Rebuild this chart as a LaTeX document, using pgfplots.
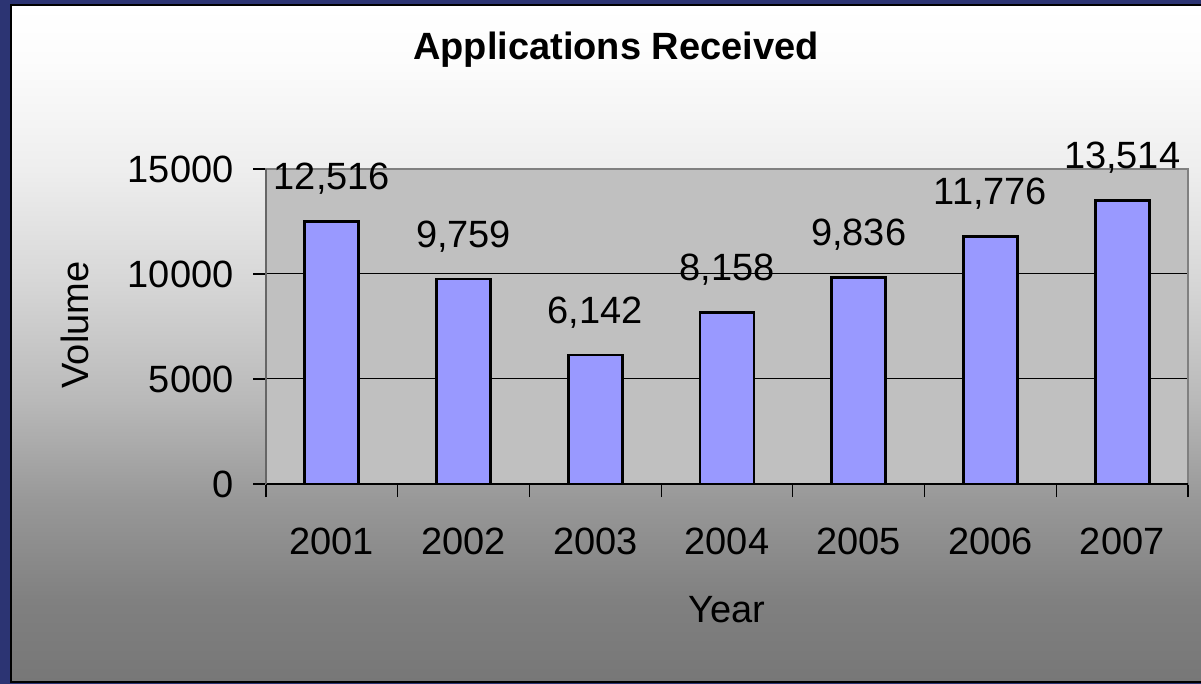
\documentclass[border=0pt]{standalone}
\usepackage{pgfplots}
\pgfplotsset{compat=1.18}
\usepackage{fontspec}
\setmainfont{Liberation Sans}
\definecolor{navy}{RGB}{44,52,115}
\definecolor{barblue}{RGB}{153,153,255}
\definecolor{plotgray}{RGB}{192,192,192}
\definecolor{bordergray}{RGB}{128,128,128}
\definecolor{ga}{RGB}{255,255,255}
\definecolor{gb}{RGB}{252,252,252}
\definecolor{gc}{RGB}{238,238,238}
\definecolor{gd}{RGB}{215,215,215}
\definecolor{ge}{RGB}{185,185,185}
\definecolor{gf}{RGB}{152,152,152}
\definecolor{gg}{RGB}{128,128,128}
\definecolor{gh}{RGB}{119,119,119}
\newcommand{\bigf}{\fontsize{38bp}{45bp}\selectfont}
\begin{document}
\begin{tikzpicture}
\begin{scope}[x=1bp,y=1bp]
\fill[navy] (0,0) rectangle (1201,684);
\shade[top color=ga, bottom color=gb] (11,623.5) rectangle (1201,679);
\shade[top color=gb, bottom color=gc] (11,513.5) rectangle (1201,624);
\shade[top color=gc, bottom color=gd] (11,403.5) rectangle (1201,514);
\shade[top color=gd, bottom color=ge] (11,283.5) rectangle (1201,404);
\shade[top color=ge, bottom color=gf] (11,183.5) rectangle (1201,284);
\shade[top color=gf, bottom color=gg] (11,83.5) rectangle (1201,184);
\shade[top color=gg, bottom color=gh] (11,2) rectangle (1201,84);
\draw[black, line width=1.5bp] (1201,2) -- (11,2) -- (11,679) -- (1201,679);
\node[font=\bigf\bfseries] at (616,634) {Applications Received};
\node[font=\bigf, rotate=90] at (75,359) {Volume};
\node[font=\bigf] at (727,74) {Year};
\end{scope}
\begin{axis}[
  at={(266bp,200bp)}, anchor=south west,
  scale only axis, width=922bp, height=315bp,
  xmin=-0.5, xmax=6.5, ymin=0, ymax=15000,
  ytick={0,5000,10000,15000},
  scaled y ticks=false,
  xtick={-0.5,0.5,1.5,2.5,3.5,4.5,5.5,6.5},
  xticklabels={{},{},{},{},{},{},{},{}},
  extra x ticks={0,1,2,3,4,5,6},
  extra x tick labels={2001,2002,2003,2004,2005,2006,2007},
  extra x tick style={major tick length=0pt, grid=none,
    xticklabel style={yshift=-40bp}},
  xtick pos=bottom, ytick pos=left,
  tick align=outside,
  major tick length=13bp,
  tick style={black, line width=1.2bp},
  ymajorgrids,
  grid style={black, line width=1bp},
  axis background/.style={fill=plotgray},
  axis line style={draw=bordergray, line width=2bp},
  tick label style={font=\bigf},
  /pgf/number format/assume math mode=true,
  yticklabel style={/pgf/number format/1000 sep={}, xshift=-16bp},
  clip=false,
]
\addplot[ybar, bar width=54bp, fill=barblue, draw=black, line width=2.8bp,
  nodes near coords,
  nodes near coords style={font=\bigf, anchor=base, yshift=32bp, inner sep=0pt, /pgf/number format/1000 sep={,}}]
  coordinates {(0,12516) (1,9759) (2,6142) (3,8158) (4,9836) (5,11776) (6,13514)};
\draw[black, line width=1.5bp] (rel axis cs:0,0) -- (rel axis cs:1,0);
\draw[black!60, line width=1.5bp] (rel axis cs:0,0) -- (rel axis cs:0,1);
\end{axis}
\pgfresetboundingbox
\path (0,0) rectangle (1201bp,684bp);
\end{tikzpicture}
\end{document}
